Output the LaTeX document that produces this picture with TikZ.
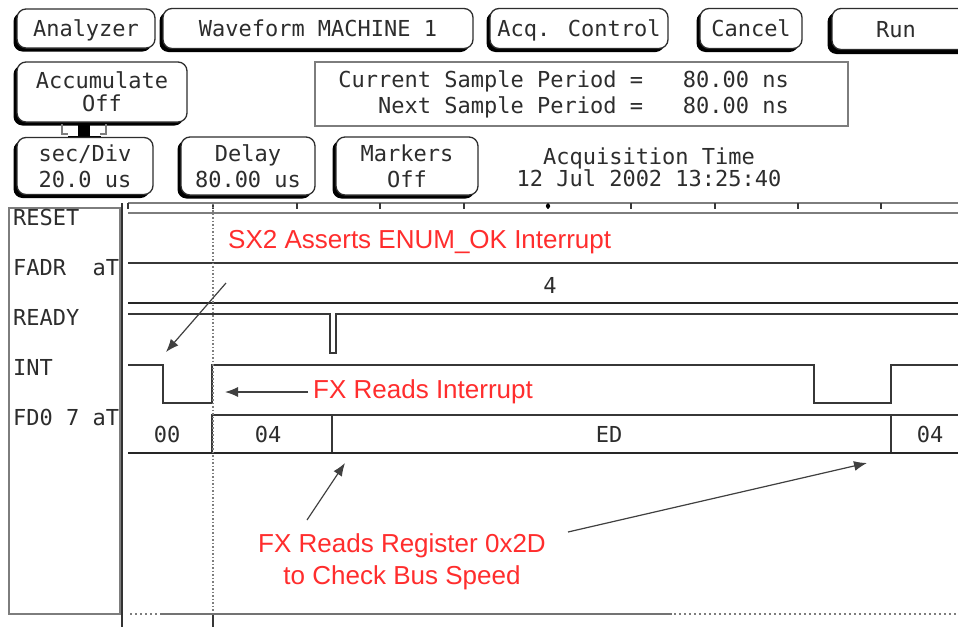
\documentclass[tikz,border=0pt]{standalone}
\usepackage{fontspec}
\setmainfont{Liberation Sans}
\newfontfamily\monof{DejaVu Sans Mono}
\usetikzlibrary{arrows.meta,shadows}
\definecolor{annred}{RGB}{255,45,45}
\definecolor{ink}{RGB}{45,45,45}
\definecolor{wire}{RGB}{55,55,55}
\definecolor{faint}{RGB}{125,125,125}
\begin{document}
\begin{tikzpicture}[x=1pt,y=-1pt,
  mono/.style={font=\monof\fontsize{22}{24}\selectfont, text=ink, inner sep=0pt},
  btn/.style={mono, align=center, draw=ink, line width=1.3pt, rounded corners=9pt, fill=white,
    drop shadow={shadow xshift=-3.5pt, shadow yshift=-3.5pt, opacity=1, fill=black}},
  onebtn/.style={btn, text height=16pt, text depth=0pt},
  runbtn/.style={btn, drop shadow={shadow xshift=-4.5pt, shadow yshift=-4.5pt, opacity=1, fill=black}},
  panel/.style={draw=faint, line width=1.5pt},
  sig/.style={draw=wire, line width=1.8pt},
  bus/.style={draw=black!85, line width=2.8pt},
  axis/.style={draw=faint, line width=1.8pt},
  ann/.style={font=\fontsize{26}{32}\selectfont, text=annred, inner sep=0pt},
  pointer/.style={draw=black!75, line width=1.2pt, -{Latex[length=13pt,width=10pt]}},
  cursor/.style={draw=faint, line width=1.3pt, dash pattern=on 1.5pt off 2pt},
  siglabel/.style={mono, anchor=base west},
  busval/.style={mono, anchor=base}
]
\useasboundingbox (0,0) rectangle (958,627);
\fill[white] (0,0) rectangle (958,627);

% ---------- top row buttons ----------
\node[onebtn, minimum width=138pt, minimum height=39pt] (analyzer) at (86,28.5) {Analyzer};
\node[onebtn, minimum width=310pt, minimum height=40pt] (waveform) at (318,28.5) {Waveform MACHINE 1};
\node[onebtn, minimum width=178pt, minimum height=40pt] (acq) at (579,28.5) {Acq. Control};
\node[onebtn, minimum width=102pt, minimum height=40pt] (cancel) at (751,28.5) {Cancel};
\node[runbtn, minimum width=170pt, minimum height=41pt] (run) at (917,29) {};
\node[mono, anchor=base] (runtxt) at (896,37) {Run};

% ---------- second row ----------
\node[btn, minimum width=170pt, minimum height=60pt, font=\monof\fontsize{22}{23}\selectfont] (accum) at (102,92) {Accumulate\\Off};
\node[draw=faint, line width=1.5pt, minimum width=533pt, minimum height=64pt, inner sep=0pt] (sampbox) at (581.5,94) {};
\node[mono, align=right, anchor=east, font=\monof\fontsize{22}{26}\selectfont] (samptxt) at (789,94)
  {Current Sample Period =~~~80.00 ns\\Next Sample Period =~~~80.00 ns};

% connector piece under Accumulate
\draw[draw=faint, line width=1.3pt] (62,124) -- (62,134) -- (68,134);
\draw[draw=faint, line width=1.3pt] (106,124) -- (106,134) -- (100,134);
\fill[black] (78,125) rectangle (90,137);
\fill[black] (68,136) rectangle (101,142);

% ---------- third row ----------
\node[btn, minimum width=136pt, minimum height=57pt, font=\monof\fontsize{22}{26}\selectfont] (secdiv) at (85,166) {sec/Div\\20.0 us};
\node[btn, minimum width=134pt, minimum height=58pt, font=\monof\fontsize{22}{26}\selectfont] (delay) at (248,166) {Delay\\80.00 us};
\node[btn, minimum width=142pt, minimum height=58pt, font=\monof\fontsize{22}{26}\selectfont] (markers) at (407,166) {Markers\\Off};
\node[mono, align=center, font=\monof\fontsize{22}{22}\selectfont] (acqtime) at (649,167) {Acquisition Time\\12 Jul 2002 13:25:40};

% ---------- waveform area ----------
\draw[panel] (9,208) rectangle (120,614);
\begin{scope}
  \clip (9,208) rectangle (119,614);
  \node[siglabel] (lreset) at (13,225) {RESET};
  \node[siglabel] (lfadr) at (13,275) {FADR~~aT};
  \node[siglabel] (lready) at (13,325) {READY};
  \node[siglabel] (lint) at (13,375) {INT};
  \node[siglabel] (lfdo) at (13,425) {FD0 7 aT};
\end{scope}
\draw[draw=black!80, line width=2.6pt] (122,203) -- (122,627);

% time axis
\draw[axis] (128,203) -- (958,203);
\foreach \tx in {128,213,297,380,464,548,631,715,798,881}
  \draw[draw=wire, line width=1.6pt] (\tx,203) -- (\tx,209);
\fill[black] (548,206) circle (2.2pt);

% RESET
\draw[axis] (128,213) -- (958,213);
% FADR bus
\draw[sig] (128,263) -- (958,263);
\draw[bus] (128,303) -- (958,303);
\node[busval] (vfadr) at (550,293) {4};
% READY
\draw[sig] (128,314) -- (330,314) -- (330,353) -- (336,353) -- (336,314) -- (958,314);
% INT
\draw[sig] (128,365) -- (163,365) -- (163,403) -- (212,403) -- (212,365) -- (814,365)
  -- (814,403) -- (891,403) -- (891,365) -- (958,365);
% FDO bus
\draw[sig] (212,453) -- (212,415) -- (958,415);
\draw[sig] (332,415) -- (332,453);
\draw[sig] (891,415) -- (891,453);
\draw[bus] (128,453) -- (958,453);
\node[busval] (v00) at (167,442) {00};
\node[busval] (v04a) at (268,442) {04};
\node[busval] (ved) at (609,442) {ED};
\node[busval] (v04b) at (930,442) {04};

% cursor
\draw[cursor] (213,203) -- (213,612);
\draw[draw=wire, line width=1.3pt] (213,614) -- (213,627);

% bottom line
\draw[draw=faint, line width=1.8pt, dash pattern=on 2pt off 3pt] (130,614) -- (158,614);
\draw[draw=black!55, line width=2pt] (160,614) -- (672,614);
\draw[draw=faint, line width=1.8pt, dash pattern=on 2pt off 3pt] (674,614) -- (958,614);

% ---------- annotations ----------
\node[ann, anchor=base west] (sx2) at (228,248) {SX2 Asserts ENUM\_OK Interrupt};
\node[ann, anchor=base west] (fxint) at (313,398) {FX Reads Interrupt};
\node[ann, align=center] (fxreg) at (402,562) {FX Reads Register 0x2D\\to Check Bus Speed};

\coordinate (a1s) at (226,283);
\coordinate (a1e) at (166,352);
\coordinate (a2s) at (308,392);
\coordinate (a2e) at (225,392);
\coordinate (a3s) at (307,520);
\coordinate (a3e) at (345,463);
\coordinate (a4s) at (568,532);
\coordinate (a4e) at (867,463);
\draw[pointer] (a1s) -- (a1e);
\draw[pointer] (a2s) -- (a2e);
\draw[pointer] (a3s) -- (a3e);
\draw[pointer] (a4s) -- (a4e);
\end{tikzpicture}
\end{document}
